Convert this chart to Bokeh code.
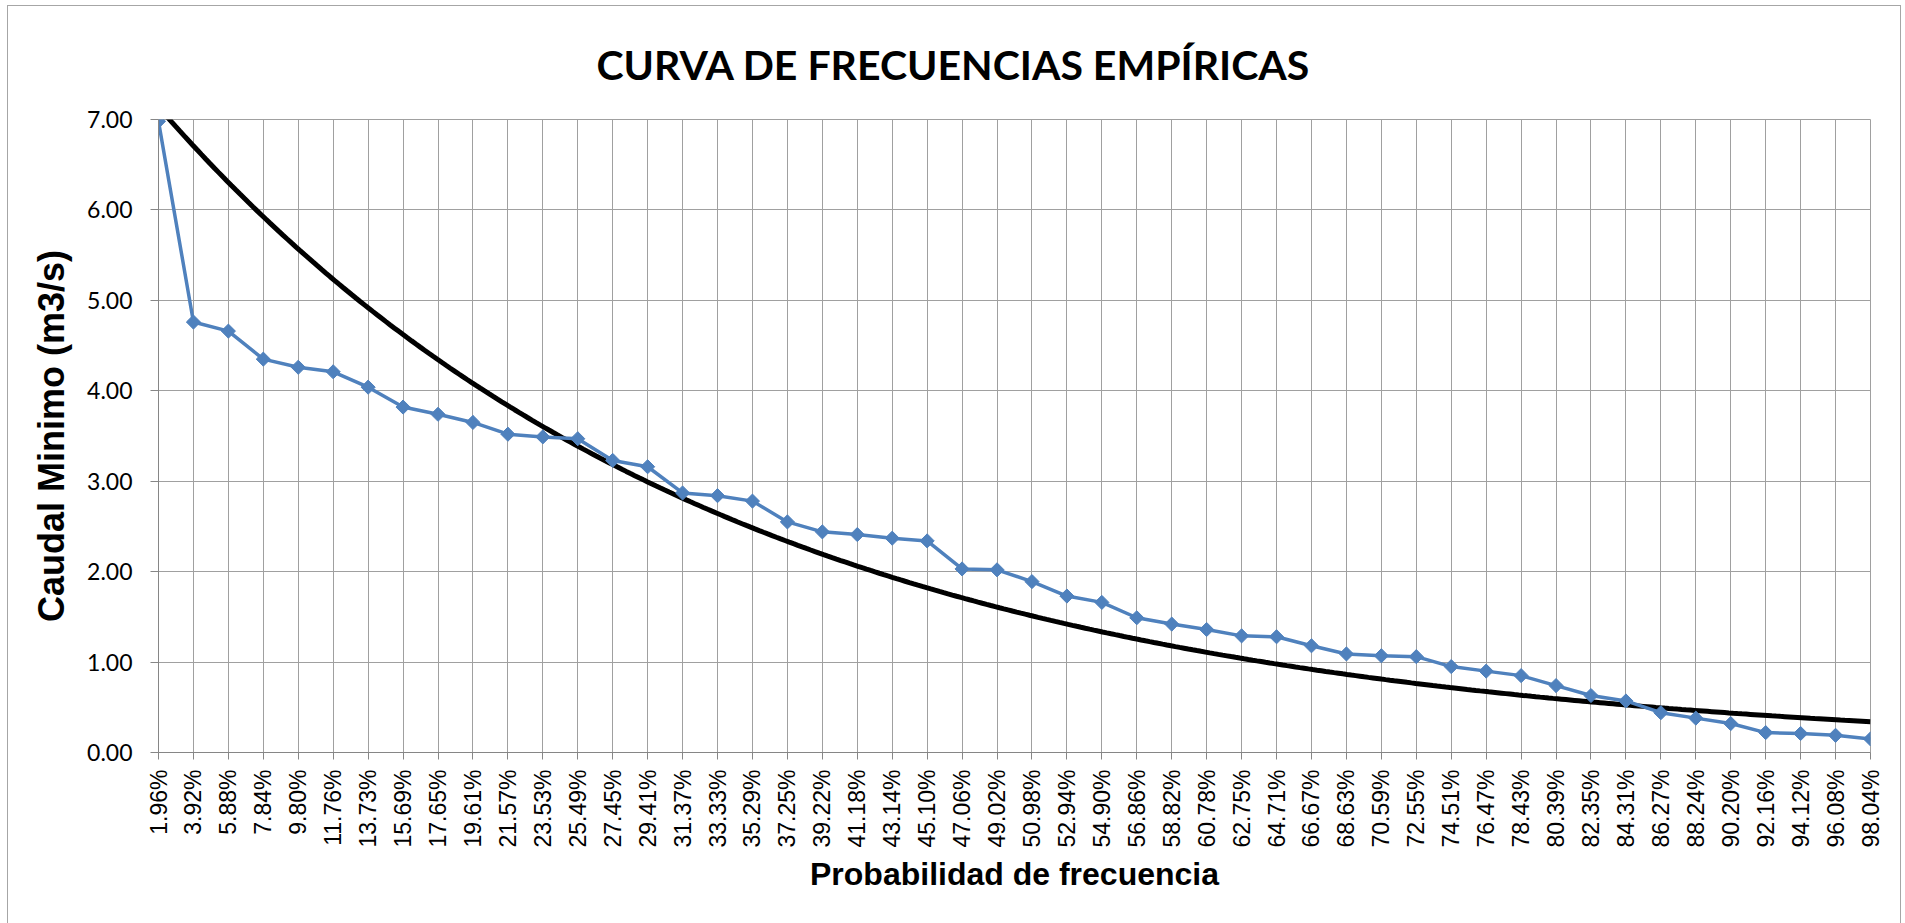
import math
import numpy as np
from bokeh.plotting import figure
from bokeh.models import Range1d, FixedTicker, NumeralTickFormatter
from bokeh.embed import file_html
from bokeh.resources import INLINE

# ---- data ----
categories = ["1.96%", "3.92%", "5.88%", "7.84%", "9.80%", "11.76%", "13.73%", "15.69%",
              "17.65%", "19.61%", "21.57%", "23.53%", "25.49%", "27.45%", "29.41%", "31.37%",
              "33.33%", "35.29%", "37.25%", "39.22%", "41.18%", "43.14%", "45.10%", "47.06%",
              "49.02%", "50.98%", "52.94%", "54.90%", "56.86%", "58.82%", "60.78%", "62.75%",
              "64.71%", "66.67%", "68.63%", "70.59%", "72.55%", "74.51%", "76.47%", "78.43%",
              "80.39%", "82.35%", "84.31%", "86.27%", "88.24%", "90.20%", "92.16%", "94.12%",
              "96.08%", "98.04%"]

caudal = [6.98, 4.76, 4.66, 4.35, 4.26, 4.21, 4.04, 3.82, 3.74, 3.65,
          3.52, 3.49, 3.47, 3.23, 3.16, 2.87, 2.84, 2.78, 2.55, 2.44,
          2.41, 2.37, 2.34, 2.03, 2.02, 1.89, 1.73, 1.66, 1.49, 1.42,
          1.36, 1.29, 1.28, 1.18, 1.09, 1.07, 1.06, 0.95, 0.90, 0.85,
          0.74, 0.63, 0.57, 0.44, 0.38, 0.32, 0.22, 0.21, 0.19, 0.15]

y_ticks = [0, 1, 2, 3, 4, 5, 6, 7]

title_text = "CURVA DE FRECUENCIAS EMPÍRICAS"
x_title = "Probabilidad de frecuencia"
y_title = "Caudal Minimo (m3/s)"

# category positions
pos = list(range(1, len(categories) + 1))

# exponential trendline (least squares on ln y, as a spreadsheet does)
slope, intercept = np.polyfit(pos, np.log(caudal), 1)
tx = np.linspace(pos[0], pos[-1], 400)
ty = np.exp(intercept) * np.exp(slope * tx)

GRID = "#a0a0a0"
AXIS = "#868686"
BLUE = "#4F81BD"

W, H = 1892, 917
B_LEFT, B_TOP, B_RIGHT, B_BOTTOM = 150, 112, 30, 171

p = figure(width=W, height=H, output_backend="svg", toolbar_location=None,
           x_range=Range1d(pos[0], pos[-1]), y_range=Range1d(y_ticks[0], y_ticks[-1]),
           min_border_left=B_LEFT, min_border_right=B_RIGHT, min_border_top=B_TOP,
           min_border_bottom=B_BOTTOM)
p.styles = {"margin-left": "8px", "margin-top": "6px", "outline": "1px solid #a6a6a6"}

# title
p.title.text = title_text
p.title.text_font = "Lato"
p.title.text_font_size = "41px"
p.title.text_font_style = "bold"
p.title.text_color = "black"
p.title.align = "left"
p.title.offset = 438
p.title.standoff = 62

# grid
p.xgrid.ticker = FixedTicker(ticks=pos)
p.xgrid.grid_line_color = GRID
p.ygrid.grid_line_color = GRID
p.outline_line_color = GRID

# x axis
p.xaxis.ticker = FixedTicker(ticks=pos)
p.xaxis.major_label_overrides = {i: c for i, c in zip(pos, categories)}
p.xaxis.major_label_orientation = math.pi / 2
p.xaxis.major_label_text_font = "Liberation Sans"
p.xaxis.major_label_text_font_size = "23px"
p.xaxis.major_label_text_color = "black"
p.xaxis.major_label_standoff = 10
p.xaxis.axis_line_color = AXIS
p.xaxis.major_tick_line_color = AXIS
p.xaxis.major_tick_out = 7
p.xaxis.major_tick_in = 0
p.xaxis.minor_tick_line_color = None
p.xaxis.axis_label = x_title
p.xaxis.axis_label_text_font = "Liberation Sans"
p.xaxis.axis_label_text_font_size = "32px"
p.xaxis.axis_label_text_font_style = "bold"
p.xaxis.axis_label_text_color = "black"
p.xaxis.axis_label_standoff = 5

# y axis
p.yaxis.ticker = FixedTicker(ticks=y_ticks)
p.yaxis.formatter = NumeralTickFormatter(format="0.00")
p.yaxis.major_label_text_font = "Lato"
p.yaxis.major_label_text_font_size = "23px"
p.yaxis.major_label_text_color = "black"
p.yaxis.major_label_standoff = 18
p.yaxis.axis_line_color = AXIS
p.yaxis.major_tick_line_color = AXIS
p.yaxis.major_tick_out = 8
p.yaxis.major_tick_in = 0
p.yaxis.minor_tick_line_color = None
p.yaxis.axis_label = y_title
p.yaxis.axis_label_text_font = "Liberation Sans"
p.yaxis.axis_label_text_font_size = "36px"
p.yaxis.axis_label_text_font_style = "bold"
p.yaxis.axis_label_text_color = "black"
p.yaxis.axis_label_standoff = 12

# series
p.line(tx, ty, line_color="black", line_width=5)
p.line(pos, caudal, line_color=BLUE, line_width=3.5)
p.scatter(pos, caudal, marker="square", angle=math.pi / 4, size=10,
          fill_color=BLUE, line_color=BLUE)

open("out.html", "w").write(file_html(p, INLINE))
